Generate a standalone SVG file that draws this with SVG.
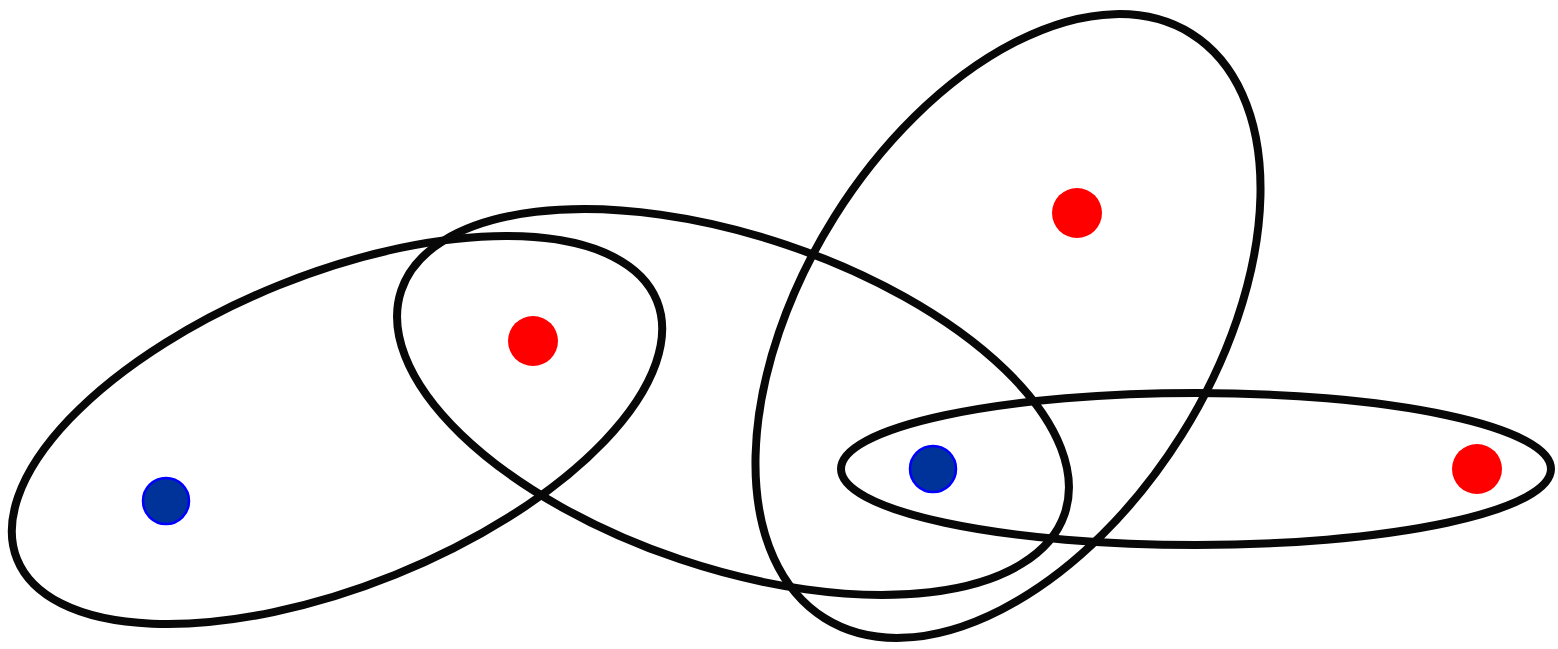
<svg xmlns="http://www.w3.org/2000/svg" width="1558" height="649" viewBox="0 0 1558 649">
<style>
.loop{fill:none;stroke:#080808;stroke-width:8}
.red{fill:#ff0000}
.blue{fill:#003399;stroke:#0000ff;stroke-width:2.5}
</style>
<rect width="1558" height="649" fill="#ffffff"/>
<g id="connectors">
<ellipse id="loop1" class="loop" cx="337" cy="430" rx="345" ry="156" transform="rotate(-22 337 430)"/>
<ellipse id="loop2" class="loop" cx="733" cy="402" rx="350" ry="166" transform="rotate(18.6 733 402)"/>
<ellipse id="loop3" class="loop" cx="1008" cy="326" rx="345" ry="205" transform="rotate(-57.9 1008 326)"/>
<ellipse id="loop4" class="loop" cx="1196" cy="469" rx="355" ry="76"/>
</g>
<g id="n1"><circle class="blue" cx="166" cy="501" r="23"/></g>
<g id="n2"><circle class="red" cx="533" cy="341" r="25"/></g>
<g id="n3"><circle class="red" cx="1077" cy="213" r="25"/></g>
<g id="n4"><circle class="blue" cx="933" cy="469" r="23"/></g>
<g id="n5"><circle class="red" cx="1477" cy="469" r="25"/></g>
</svg>
